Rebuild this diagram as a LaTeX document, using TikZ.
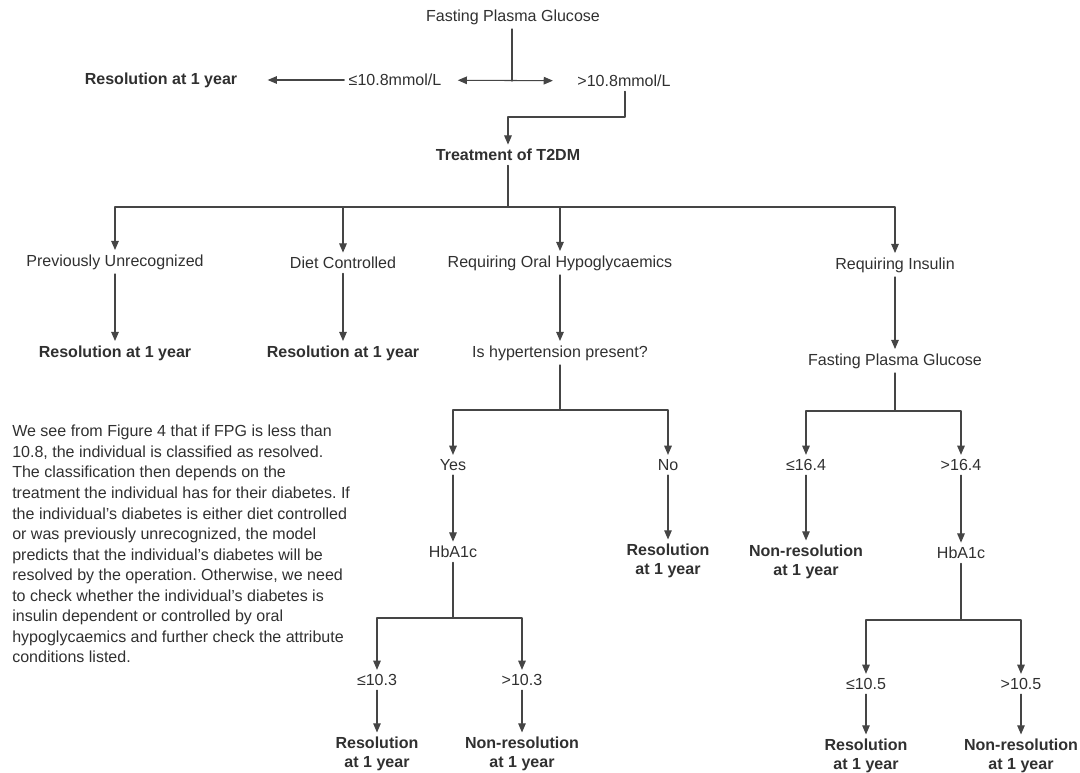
\documentclass[tikz,border=0pt]{standalone}
\usepackage{fontspec}
\setmainfont{Liberation Sans}
\usetikzlibrary{arrows.meta}
\definecolor{ink}{HTML}{303030}
\definecolor{wire}{HTML}{454545}
\frenchspacing

\begin{document}
\begin{tikzpicture}[x=0.025cm,y=-0.025cm,line cap=round,line join=round,
  font=\fontsize{11.4}{14.6}\selectfont,
  lbl/.style={text=ink,inner sep=3pt},
  res/.style={text=ink,inner sep=3pt,align=center,font=\bfseries\fontsize{11.4}{13.6}\selectfont},
  ln/.style={draw=wire,line width=0.75pt},
  arr/.style={ln,-{Triangle[length=2.3mm,width=1.9mm]}}]
  \useasboundingbox (0,0) rectangle (1080,773);

  \node[lbl] (fpg) at (513,17) {Fasting Plasma Glucose};
  \node[lbl] (le) at (395,80) {≤10.8mmol/L};
  \node[lbl] (gt) at (624,81) {>10.8mmol/L};
  \node[res] (resA) at (161,80) {Resolution at 1 year};
  \node[res] (trt) at (508,155) {Treatment of T2DM};

  \node[lbl] (pu) at (115,262) {Previously Unrecognized};
  \node[lbl] (dc) at (343,263) {Diet Controlled};
  \node[lbl] (oh) at (560,263) {Requiring Oral Hypoglycaemics};
  \node[lbl] (ins) at (895,265) {Requiring Insulin};

  \node[res] (resB) at (115,353) {Resolution at 1 year};
  \node[res] (resC) at (343,353) {Resolution at 1 year};
  \node[lbl] (hyp) at (560,353) {Is hypertension present?};
  \node[lbl] (fpg2) at (895,361) {Fasting Plasma Glucose};

  \node[lbl] (yes) at (453,465) {Yes};
  \node[lbl] (no) at (668,465) {No};
  \node[lbl] (hbA) at (453,552) {HbA1c};
  \node[res] (resD) at (668,561) {Resolution\\at 1 year};
  \node[lbl] (leA) at (377,680) {≤10.3};
  \node[lbl] (gtA) at (522,680) {>10.3};
  \node[res] (resE) at (377,754) {Resolution\\at 1 year};
  \node[res] (nresA) at (522,754) {Non-resolution\\at 1 year};

  \node[lbl] (le2) at (806,465) {≤16.4};
  \node[lbl] (gt2) at (961,465) {>16.4};
  \node[res] (nresB) at (806,562) {Non-resolution\\at 1 year};
  \node[lbl] (hbB) at (961,553) {HbA1c};
  \node[lbl] (leB) at (866,684) {≤10.5};
  \node[lbl] (gtB) at (1021,684) {>10.5};
  \node[res] (resF) at (866,756) {Resolution\\at 1 year};
  \node[res] (nresC) at (1021,756) {Non-resolution\\at 1 year};

  \node[text=ink,inner sep=0pt,align=left,anchor=north west] (note) at (12,425)
    {We see from Figure 4 that if FPG is less than\\
     10.8, the individual is classified as resolved.\\
     The classification then depends on the\\
     treatment the individual has for their diabetes. If\\
     the individual's diabetes is either diet controlled\\
     or was previously unrecognized, the model\\
     predicts that the individual's diabetes will be\\
     resolved by the operation. Otherwise, we need\\
     to check whether the individual's diabetes is\\
     insulin dependent or controlled by oral\\
     hypoglycaemics and further check the attribute\\
     conditions listed.};

  \coordinate (fpgj) at (512,81);
  \coordinate (gtj) at (625,117);
  \coordinate (trtj) at (508,207);
  \coordinate (hypj) at (560,410);
  \coordinate (hbAj) at (453,618);
  \coordinate (fpg2j) at (895,411);
  \coordinate (hbBj) at (961,620);

  \draw[ln] (fpg.south -| fpgj) -- (fpgj);
  \draw[ln,{Triangle[length=2.3mm,width=1.9mm]}-{Triangle[length=2.3mm,width=1.9mm]},
    shorten <=3mm,shorten >=5mm] (le) -- (gt);
  \draw[arr,shorten >=6.5mm] (le) -- (resA);
  \draw[arr] (gt.south -| gtj) -- (gtj) -| (trt);
  \draw[ln] (trt) -- (trtj);
  \foreach \kid in {pu,dc,oh,ins} \draw[arr] (trtj) -| (\kid);
  \draw[ln] (hyp) -- (hypj);
  \foreach \kid in {yes,no} \draw[arr] (hypj) -| (\kid);
  \draw[ln] (hbA) -- (hbAj);
  \foreach \kid in {leA,gtA} \draw[arr] (hbAj) -| (\kid);
  \draw[ln] (fpg2) -- (fpg2j);
  \foreach \kid in {le2,gt2} \draw[arr] (fpg2j) -| (\kid);
  \draw[ln] (hbB) -- (hbBj);
  \foreach \kid in {leB,gtB} \draw[arr] (hbBj) -| (\kid);

  \foreach \a/\b in {pu/resB,dc/resC,oh/hyp,ins/fpg2,yes/hbA,no/resD,
    leA/resE,gtA/nresA,le2/nresB,gt2/hbB,leB/resF,gtB/nresC}
    \draw[arr] (\a) -- (\b);

\end{tikzpicture}
\end{document}
